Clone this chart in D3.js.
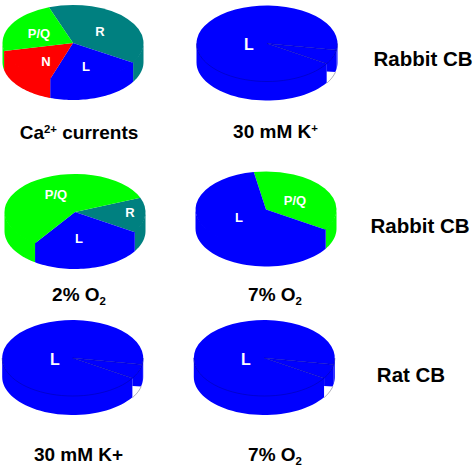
<!DOCTYPE html>
<html lang="en">
<head>
<meta charset="UTF-8">
<title>Ca2+ current pies</title>
<script src="https://d3js.org/d3.v7.min.js"></script>
<style>
    html, body {margin: 0; background: #fff;}
    svg {display: block;}
    text {font-family: "Liberation Sans", Arial, sans-serif; font-weight: bold;}
</style>
</head>
<body>
<div id="chart"></div>
<script>
// Share of each channel type, in percent
var caCurrentsLabels = ["R", "L", "N", "P/Q"];
var caCurrentsValues = [39.3, 21.5, 16.4, 22.8];
var rabbitO2Labels = ["R", "L", "P/Q"];
var rabbitO2Values = [15, 25.7, 59.3];
var rabbit7Labels = ["P/Q", "L"];
var rabbit7Values = [36.7, 63.3];
var mostlyLLabels = ["L", "rest"];
var mostlyLValues = [93.9, 6.1];

var width = 475, height = 468;
var rx = 70.5, ry = 38, depth = 19;
var notchDrop = 28; // the white cut in the wall starts this far below the centre

var colour = d3.scaleOrdinal()
    .domain(["L", "N", "P/Q", "R", "rest"])
    .range(["#0000ff", "#ff0000", "#00ff00", "#008080", "#0000ff"]);

// Pie layouts. start is the clock angle (degrees) where the first slice begins
var pies = [
    {cx: 73, cy: 43, start: -20, labels: caCurrentsLabels, values: caCurrentsValues,
     text: [["P/Q", 39, 38, 13], ["R", 100, 36, 13], ["N", 46, 66, 13], ["L", 86, 71, 13]]},
    {cx: 267, cy: 43.5, start: 122, labels: mostlyLLabels, values: mostlyLValues, lined: true, notch: true,
     text: [["L", 249, 50, 16]]},
    {cx: 75, cy: 212, start: 68, labels: rabbitO2Labels, values: rabbitO2Values, notch: true,
     text: [["P/Q", 56, 199, 13], ["R", 130, 217, 13], ["L", 79, 243, 13]]},
    {cx: 266, cy: 209.5, start: -10, labels: rabbit7Labels, values: rabbit7Values,
     text: [["L", 239, 222, 13], ["P/Q", 295, 205, 13]]},
    {cx: 72.7, cy: 358, start: 122, labels: mostlyLLabels, values: mostlyLValues, lined: true, notch: true,
     text: [["L", 55, 364.5, 16]]},
    {cx: 264.3, cy: 358, start: 122, labels: mostlyLLabels, values: mostlyLValues, lined: true, notch: true,
     text: [["L", 246, 364.5, 16]]}
];

// Captions: pieces are [string, baseline shift]
var captions = [
    {x: 79, y: 139, size: 19, parts: [["Ca", 0], ["2+", 1], [" currents", 0]]},
    {x: 275.5, y: 138, size: 19, parts: [["30 mM K", 0], ["+", 1]]},
    {x: 79, y: 300.5, size: 19, parts: [["2% O", 0], ["2", -1]]},
    {x: 275, y: 300.5, size: 19, parts: [["7% O", 0], ["2", -1]]},
    {x: 78.5, y: 460.5, size: 19, parts: [["30 mM K+", 0]]},
    {x: 275, y: 461, size: 19, parts: [["7% O", 0], ["2", -1]]},
    {x: 423, y: 65.5, size: 20.5, parts: [["Rabbit CB", 0]]},
    {x: 420, y: 232.5, size: 20.5, parts: [["Rabbit CB", 0]]},
    {x: 411, y: 382, size: 20.5, parts: [["Rat CB", 0]]}
];

var svg = d3.select("#chart").append("svg")
    .attr("width", width)
    .attr("height", height);

var line = d3.line();
var arc = d3.arc().innerRadius(0).outerRadius(rx);

// Point on the tilted rim for a clock angle in radians
function rim(p, a, drop) {
    return [p.cx + rx * Math.sin(a), p.cy - ry * Math.cos(a) + drop];
}

function sweep(a0, a1) {
    return d3.range(0, 41).map(function(i){
        return a0 + (a1 - a0) * i / 40;
    });
}

pies.forEach(function(p){
    var start = p.start * Math.PI / 180;
    var slices = d3.pie().sort(null)
        .startAngle(start)
        .endAngle(start + 2 * Math.PI)(p.values)
        .map(function(d, i){
            d.name = p.labels[i];
            return d;
        });

    var g = svg.append("g");
    var lineColour = "#0000a0";

    // Walls: only the front half (clock 90 to 270) can be seen
    slices.forEach(function(d){
        [0, 2 * Math.PI].forEach(function(turn){
            var a0 = Math.max(d.startAngle - turn, Math.PI / 2);
            var a1 = Math.min(d.endAngle - turn, 3 * Math.PI / 2);
            if (a1 <= a0) return;
            var top = sweep(a0, a1).map(function(a){ return rim(p, a, -1); });
            var bottom = sweep(a1, a0).map(function(a){ return rim(p, a, depth); });
            g.append("path")
                .attr("d", line(top.concat(bottom)) + "Z")
                .attr("fill", colour(d.name));
        });
    });

    // White cut at the foot of the wall, just before the first slice
    if (p.notch) {
        var edge = sweep(Math.PI / 2, start)
            .map(function(a){ return rim(p, a, depth + 0.5); })
            .filter(function(q){ return q[1] >= p.cy + notchDrop; });
        var corner = [rim(p, start, 0)[0], p.cy + notchDrop];
        g.append("path")
            .attr("d", line([corner].concat(edge)) + "Z")
            .attr("fill", "#fff");
        if (p.lined) {
            g.append("path")
                .attr("d", line(edge))
                .attr("fill", "none")
                .attr("stroke", "#808080")
                .attr("stroke-width", 0.6);
        }
    }

    // Top faces
    g.selectAll("path.top")
        .data(slices)
        .enter()
        .append("path")
            .attr("class", "top")
            .attr("d", arc)
            .attr("transform", "translate(" + p.cx + "," + p.cy + ") scale(1," + (ry / rx) + ")")
            .attr("fill", function(d){ return colour(d.name); });

    // Thin dark lines on the all blue pies
    if (p.lined) {
        var wedge = slices[1];
        var a0 = wedge.startAngle - 2 * Math.PI, a1 = wedge.endAngle - 2 * Math.PI;
        g.append("path")
            .attr("d", line(sweep(Math.PI / 2, 3 * Math.PI / 2).map(function(a){ return rim(p, a, 0); })))
            .attr("fill", "none")
            .attr("stroke", lineColour)
            .attr("stroke-width", 0.5);
        g.append("path")
            .attr("d", line([rim(p, a0, 0), [p.cx, p.cy], rim(p, a1, 0)]))
            .attr("fill", "none")
            .attr("stroke", lineColour)
            .attr("stroke-width", 0.5);
    }

    // Slice labels
    p.text.forEach(function(t){
        g.append("text")
            .attr("x", t[1])
            .attr("y", t[2])
            .attr("text-anchor", "middle")
            .attr("font-size", t[3])
            .attr("fill", "#fff")
            .text(t[0]);
    });
});

// Captions and row titles
captions.forEach(function(c){
    var label = svg.append("text")
        .attr("x", c.x)
        .attr("y", c.y)
        .attr("text-anchor", "middle")
        .attr("font-size", c.size)
        .attr("fill", "#000");
    var last = 0;
    c.parts.forEach(function(part){
        var shift = part[1] * (part[1] > 0 ? 6 : 4);
        label.append("tspan")
            .attr("dy", last - shift)
            .attr("font-size", part[1] ? c.size * 0.6 : c.size)
            .text(part[0]);
        last = shift;
    });
});
</script>
</body>
</html>
